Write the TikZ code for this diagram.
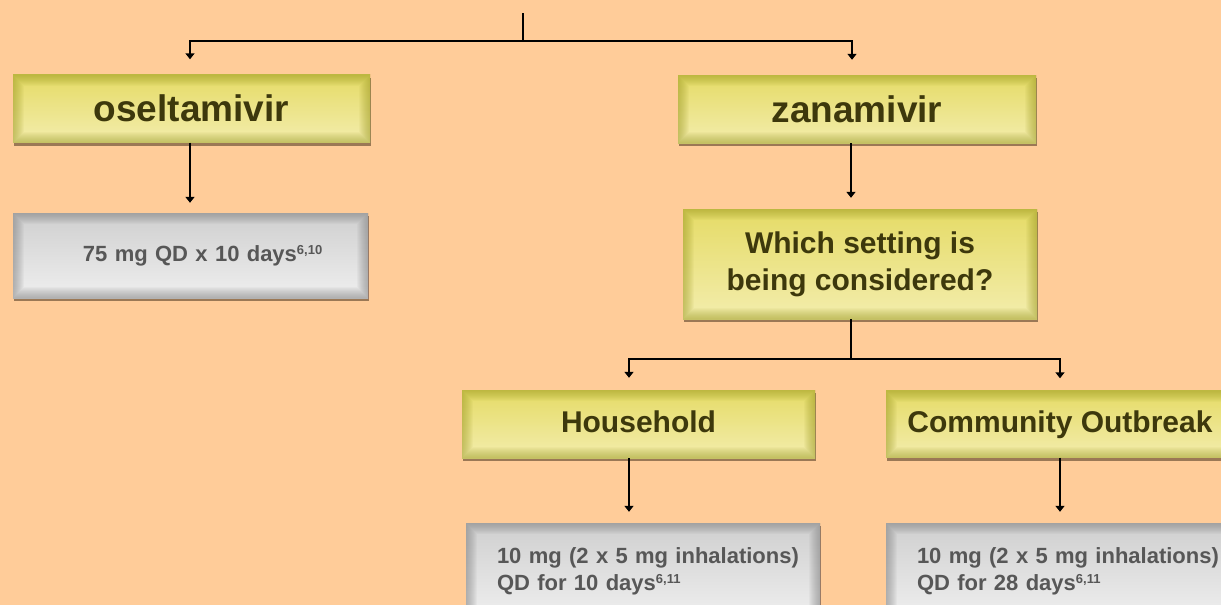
\documentclass[tikz,border=0pt]{standalone}
\usepackage{fontspec}
\setmainfont{Liberation Sans}
\usetikzlibrary{arrows.meta,shadows,calc}
\definecolor{bgc}{HTML}{FFCC99}
\definecolor{ytop}{HTML}{E5DB66}
\definecolor{ybot}{HTML}{F3EDAD}
\definecolor{yedge}{HTML}{9C9A22}
\definecolor{ytext}{HTML}{3D380C}
\definecolor{gtop}{HTML}{CFCFCF}
\definecolor{gbot}{HTML}{EFEFEF}
\definecolor{gedge}{HTML}{7A7A7A}
\definecolor{gtext}{HTML}{575757}
\tikzset{
  glow/.style={path picture={
    \foreach \w in {2,4,...,22}{
      \draw[#1, line width=\w pt, opacity=0.06]
        (path picture bounding box.south west) rectangle (path picture bounding box.north east);}
  }},
  basebox/.style={rectangle, inner sep=0pt, draw=none,
    drop shadow={shadow xshift=1pt, shadow yshift=-3pt, fill=black!70!brown, opacity=0.5}},
  ybox/.style={basebox, top color=ytop, bottom color=ybot, glow=yedge,
    text=ytext, font=\bfseries\fontsize{30}{37}\selectfont, align=center},
  oneline/.style={text height=22pt, text depth=6pt},
  gbox/.style={basebox, top color=gtop, bottom color=gbot, glow=gedge,
    text=gtext, font=\bfseries\fontsize{22}{27}\selectfont},
  arr/.style={draw=black, line width=2.2pt, -{Triangle[width=9pt,length=6pt]}},
  ln/.style={draw=black, line width=2.2pt}
}
\newcommand{\supr}[1]{\raisebox{7pt}{\fontsize{13}{13}\selectfont #1}}
\begin{document}
\begin{tikzpicture}[x=1pt,y=-1pt]
\useasboundingbox (0,0) rectangle (1221,605);
\clip (0,0) rectangle (1221,605);
\fill[bgc] (0,0) rectangle (1221,605);

\node[ybox, minimum width=357pt, minimum height=68pt, font=\bfseries\fontsize{37}{44}\selectfont, text height=27pt, text depth=1pt] (osel) at (191.5,108.5) {oseltamivir};
\node[ybox, minimum width=358pt, minimum height=68pt, font=\bfseries\fontsize{37}{44}\selectfont, text height=27pt, text depth=1pt] (zana) at (857,109) {zanamivir};
\node[ybox, minimum width=354pt, minimum height=110pt] (which) at (860,264) {Which setting is\\being considered?};
\node[ybox, oneline, minimum width=353pt, minimum height=68pt] (house) at (638.5,424) {Household};
\node[ybox, oneline, minimum width=348pt, minimum height=67pt] (comm) at (1060,424) {Community Outbreak};

\node[gbox, minimum width=355pt, minimum height=85pt, text width=285pt, inner xsep=35pt, align=left] (g1) at (190.5,255.5) {\hspace*{35pt}75 mg QD x 10 days\supr{6,10}};
\node[gbox, minimum width=354pt, minimum height=96pt, text width=292pt, inner xsep=31pt, align=left] (g2) at (643,571) {\mbox{10 mg (2 x 5 mg inhalations)}\\\mbox{QD for 10 days\supr{6,11}}};
\node[gbox, minimum width=348pt, minimum height=96pt, text width=286pt, inner xsep=31pt, align=left] (g3) at (1060,571) {\mbox{10 mg (2 x 5 mg inhalations)}\\\mbox{QD for 28 days\supr{6,11}}};

\coordinate (top) at (523,13);
\coordinate (split) at (523,41);
\draw[ln] (top) -- (split);
\draw[arr, shorten >=15pt] (split) -| ([xshift=-1.5pt]osel.north);
\draw[arr, shorten >=15pt] (split) -| ([xshift=-5pt]zana.north);
\draw[arr, shorten >=10pt] ([xshift=-1.5pt]osel.south) -- ([xshift=-1.5pt]osel.south |- g1.north);
\draw[arr, shorten >=11pt] ([xshift=-6pt]zana.south) -- ([xshift=-6pt]zana.south |- which.north);
\coordinate (split2) at ($([xshift=-9pt]which.south)+(0,40)$);
\draw[ln] ([xshift=-9pt]which.south) -- (split2);
\draw[arr, shorten >=12pt] (split2) -| ([xshift=-9.5pt]house.north);
\draw[arr, shorten >=12pt] (split2) -| (comm.north);
\draw[arr, shorten >=11pt] ([xshift=-9.5pt]house.south) -- ([xshift=-9.5pt]house.south |- g2.north);
\draw[arr, shorten >=11pt] (comm.south) -- (comm.south |- g3.north);
\end{tikzpicture}
\end{document}
